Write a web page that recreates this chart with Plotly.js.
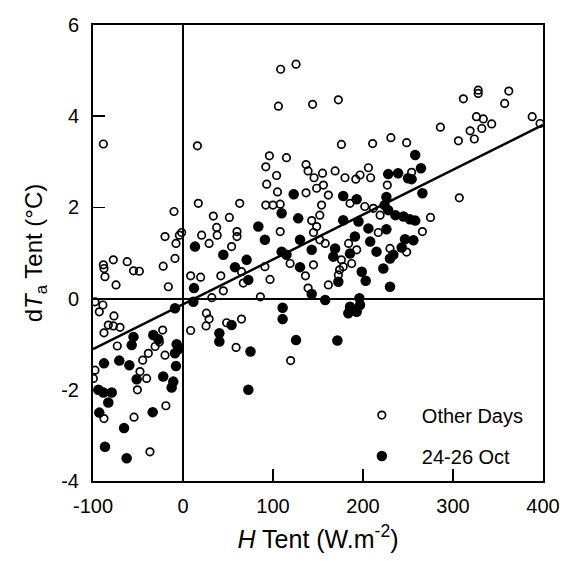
<!DOCTYPE html>
<html>
<head>
<meta charset="utf-8">
<script src="https://cdn.plot.ly/plotly-3.0.1.min.js"></script>
<style>html,body{margin:0;padding:0;background:#fff;}#chart{width:565px;height:561px;}</style>
</head>
<body>
<div id="chart"></div>
<script>
// Other Days (open circles): H Tent (W m-2) and dTa Tent (°C)
const otherX = [-88.5,16,108.5,125.6,106,96,115,92,104,93,105,123,
  144,172.6,176,210.7,231,248.5,136.7,139,145.6,155,169,180,192,196.7,206,208.5,227,136.7,148.5,156,161.5,
  286,311.5,328,328,362,357.4,326,333.7,343,332,319,323.7,306,388,396.7,307,275,266,230,248.5,254,
  185.6,202,211.5,219,108,154,152,143,217,148.5,145,152,158,119,145,136,184,193,176,187.4,178,174,172.6,161.5,139,119.6,
  17,63,33.7,51.5,37.4,38,20.7,29,60,60,54,65,91,67,96.7,8.5,19.6,42,44.8,32,86,26,29,25.6,8.5,48.5,65,59,92,100,108,-1.5,
  -10,-20,-4,-7.8,-8.9,-22,-16.3,-88.5,-87.8,-77.4,-86.7,-62,-55,-48.5,-74.4,-97.8,-89,-93,-76.7,-83,-77.4,-70,-87.8,
  -22.6,-26.3,-73,-31,-38.5,-44.8,-20,-97.8,-47.8,-40.4,-99.6,
  -50.7,-87.8,-54.4,-19,-36.7];
const otherY = [3.39,3.35,5.03,5.14,4.22,3.13,3.09,2.89,2.70,2.51,2.34,2.29,
  4.26,4.36,3.38,3.40,3.53,3.42,2.94,2.80,2.65,2.75,2.80,2.65,2.62,2.71,2.87,2.65,2.49,2.32,2.42,2.49,2.27,
  3.76,4.38,4.57,4.50,4.55,4.28,3.99,3.94,3.83,3.73,3.68,3.50,3.46,3.99,3.84,2.21,1.78,1.47,1.10,1.02,2.77,
  2.09,2.02,1.98,1.83,1.47,2.05,1.83,1.71,1.45,1.58,1.45,1.29,1.21,0.77,0.74,0.50,1.21,1.07,0.85,0.77,0.70,0.63,0.52,0.30,0.23,-1.36,
  2.09,2.09,1.81,1.78,1.56,1.39,1.39,1.21,1.47,1.36,1.14,0.59,0.70,0.34,0.42,0.50,0.47,0.50,0.17,0.02,0.04,-0.32,-0.45,-0.60,-0.70,-0.53,-0.45,-1.07,2.05,2.05,2.07,1.45,
  1.91,1.36,1.39,1.21,0.88,0.71,0.26,0.74,0.66,0.85,0.48,0.81,0.61,0.60,0.30,-0.07,-0.14,-0.29,-0.38,-0.58,-0.60,-0.63,-0.75,
  -0.69,-0.95,-1.04,-1.05,-1.20,-1.35,-1.24,-1.57,-1.60,-1.75,-1.75,
  -2.0,-2.63,-2.60,-2.35,-3.36];

// 24-26 Oct (filled circles)
const octX = [123,228,239,250,178,193,226,258,264.4,254,266,
  224,228,236,245,252,258,226,246.7,256,243,233.7,
  109.6,128,178,195,206,191,208,215,230,222.6,130,143,109.6,115,130,169,185.6,167,198.6,203,172.6,230,143,158,196,185.6,196.7,183.7,193,110.7,110.7,125.6,171.5,
  13.3,83.7,91,44.8,70.7,57.8,72.6,12.2,11.5,54,40.4,40.4,75,72.6,
  -8.9,-55,-33,-27.4,-57,-7,-5.2,-8.9,-7.8,-87.8,-70.8,-59.6,-51.5,-22,-10.8,
  -94,-88.5,-79.2,-83,-12.6,-93,-33.7,-65.5,-86.7,-62.6];
const octY = [2.29,2.73,2.75,2.64,2.25,2.18,2.23,3.15,2.86,2.62,2.31,
  2.05,1.94,1.83,1.80,1.74,1.71,1.52,1.30,1.28,1.12,0.96,
  1.87,1.76,1.72,1.69,1.54,1.36,1.25,1.03,0.88,0.66,1.29,1.07,1.03,0.96,0.69,1.10,0.99,0.92,0.59,0.39,0.37,0.26,0.10,-0.03,0.01,-0.18,-0.14,-0.32,-0.29,-0.20,-0.45,-0.91,-0.92,
  1.14,1.58,1.29,0.96,0.85,0.69,0.41,0.23,-0.07,-0.58,-0.76,-0.94,-1.16,-2.0,
  -0.21,-0.84,-0.80,-0.89,-1.02,-1.0,-1.11,-1.20,-1.48,-1.42,-1.36,-1.46,-1.77,-1.71,-1.82,
  -2.0,-2.06,-2.06,-2.28,-1.95,-2.50,-2.49,-2.84,-3.25,-3.50];

// Regression line end points
const fitX = [-100, 400];
const fitY = [-1.11, 3.81];

const seriesNames = ["Other Days", "24-26 Oct"];
const xTicks = [-100, 0, 100, 200, 300, 400];
const yTicks = [-4, -2, 0, 2, 4, 6];

const FONT = "Liberation Sans, Arial, Helvetica, sans-serif";

const traces = [
  {x: otherX, y: otherY, type: "scatter", mode: "markers", name: seriesNames[0], legendgroup: "a",
   marker: {symbol: "circle-open", size: 7.5, color: "#000", line: {width: 1.7, color: "#000"}}},
  {x: octX, y: octY, type: "scatter", mode: "markers", name: seriesNames[1], legendgroup: "b",
   marker: {symbol: "circle", size: 10.5, color: "#000"}},
  {x: fitX, y: fitY, type: "scatter", mode: "lines", showlegend: false, hoverinfo: "skip",
   line: {color: "#000", width: 2.5}}
];

const layout = {
  width: 565, height: 561,
  margin: {l: 93, r: 22, t: 25, b: 80},
  paper_bgcolor: "#fff", plot_bgcolor: "#fff",
  font: {family: FONT, size: 20, color: "#000"},
  showlegend: true,
  legend: {x: 0.553, y: 0.012, xanchor: "left", yanchor: "bottom", bgcolor: "rgba(0,0,0,0)",
           font: {family: FONT, size: 20, color: "#000"}, itemwidth: 70, tracegroupgap: 12},
  xaxis: {range: [-100, 400], tickvals: xTicks, ticktext: xTicks.map(String),
          ticks: "inside", ticklen: 12, tickwidth: 1.5, tickcolor: "#000",
          showline: true, linewidth: 2, linecolor: "#000", mirror: true,
          showgrid: false, zeroline: true, zerolinecolor: "#000", zerolinewidth: 2,
          ticklabelstandoff: 6,
          title: {text: "<i>H</i> Tent (W.m<sup>-2</sup>)", font: {size: 25}, standoff: 14}},
  yaxis: {range: [-4, 6], tickvals: yTicks, ticktext: yTicks.map(String),
          ticks: "inside", ticklen: 12, tickwidth: 1.5, tickcolor: "#000",
          showline: true, linewidth: 2, linecolor: "#000", mirror: true,
          showgrid: false, zeroline: true, zerolinecolor: "#000", zerolinewidth: 2,
          ticklabelstandoff: 8,
          title: {text: "d<i>T</i><sub>a</sub> Tent (°C)", font: {size: 24}, standoff: 12}}
};

Plotly.newPlot("chart", traces, layout, {displayModeBar: false, staticPlot: true});
</script>
</body>
</html>
